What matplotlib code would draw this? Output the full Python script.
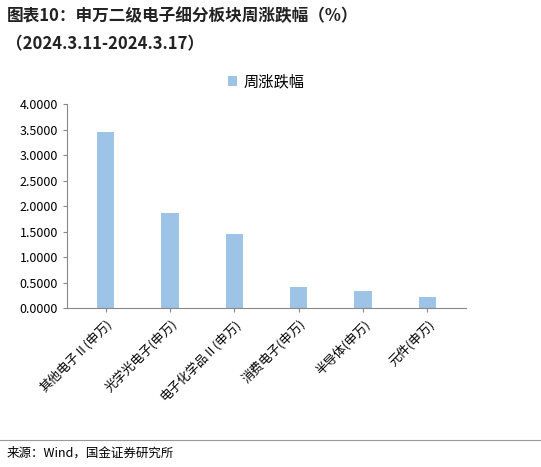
import matplotlib
matplotlib.use("Agg")
import matplotlib.pyplot as plt
from matplotlib.lines import Line2D

plt.rcParams['font.family'] = ['Noto Sans CJK SC', 'DejaVu Sans']

categories = ["其他电子Ⅱ(申万)", "光学光电子(申万)", "电子化学品Ⅱ(申万)", "消费电子(申万)", "半导体(申万)", "元件(申万)"]
values = [3.45, 1.87, 1.45, 0.42, 0.33, 0.22]
yticks = [0, 0.5, 1.0, 1.5, 2.0, 2.5, 3.0, 3.5, 4.0]

fig = plt.figure(figsize=(5.41, 4.67), dpi=100)
ax = fig.add_axes([0.124, 0.340, 0.737, 0.437])
ax.bar(range(len(values)), values, width=0.27, color="#9DC3E6", label="周涨跌幅")
ax.set_xlim(-0.6, len(values) - 0.4)
ax.set_ylim(0, 4.0)
ax.set_yticks(yticks)
ax.set_yticklabels([f"{v:.4f}" for v in yticks], fontsize=9)
ax.set_xticks(range(len(values)))
ax.set_xticklabels(categories, rotation=45, ha="right", rotation_mode="anchor", fontsize=9)
for s in ["top", "right"]:
    ax.spines[s].set_visible(False)
ax.spines["left"].set_color("#888888")
ax.spines["bottom"].set_color("#888888")
ax.tick_params(axis="both", length=3, color="#888888")
ax.legend(loc="lower center", bbox_to_anchor=(0.5, 1.0), frameon=False, fontsize=11,
          handlelength=0.6, handleheight=0.6, handletextpad=0.4)

fig.text(0.012, 0.965, "图表10：申万二级电子细分板块周涨跌幅（%）", fontsize=12, fontweight="bold",
         style="italic", color="#222222", va="center")
fig.text(0.012, 0.905, "（2024.3.11-2024.3.17）", fontsize=12, fontweight="bold",
         style="italic", color="#222222", va="center")
fig.add_artist(Line2D([0.0, 1.0], [0.058, 0.058], color="#999999", lw=0.8))
fig.text(0.012, 0.03, "来源：Wind，国金证券研究所", fontsize=9, va="center")

fig.savefig("out.png", dpi=100)
